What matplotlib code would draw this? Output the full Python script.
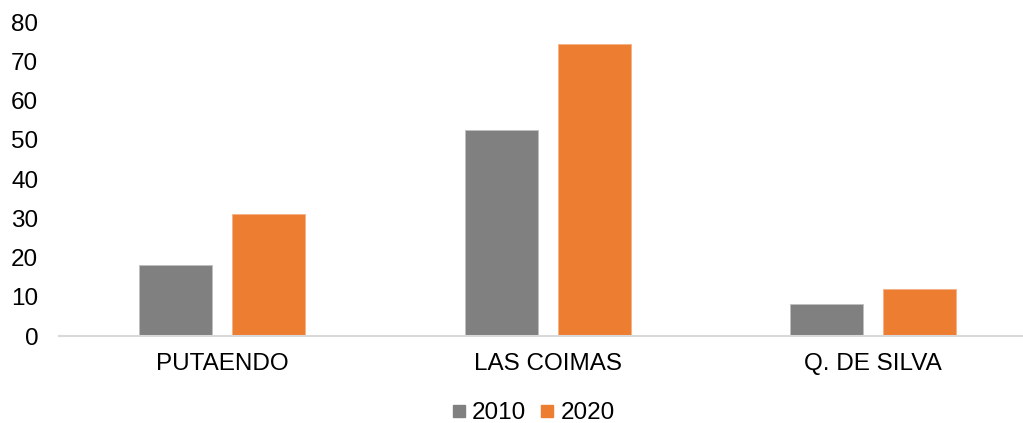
import numpy as np
import matplotlib.pyplot as plt
from matplotlib.lines import Line2D

plt.rcParams['font.family'] = ['Liberation Sans', 'DejaVu Sans']

categories = ["PUTAENDO", "LAS COIMAS", "Q. DE SILVA"]
years = ["2010", "2020"]
values_2010 = [18, 52.6, 8.1]
values_2020 = [31, 74.5, 11.9]
colors = ["#808080", "#ED7D31"]

W, H = 1023, 423
fig = plt.figure(figsize=(W / 100, H / 100), dpi=100)
ax = fig.add_axes([59 / W, (H - 336) / H, 3 * 325.75 / W, (336 - 22.4) / H])

x = np.arange(len(categories))
width = 0.224
ax.bar(x - 0.1425, values_2010, width, color=colors[0], edgecolor="#bfbfbf", linewidth=0.6)
ax.bar(x + 0.1425, values_2020, width, color=colors[1], edgecolor="#f4b183", linewidth=0.6)

ax.set_xlim(-0.5, 2.5)
ax.set_ylim(0, 80)
ax.set_yticks(np.arange(0, 81, 10))
ax.set_xticks(x)
ax.set_xticklabels(categories)

for side in ["top", "right", "left"]:
    ax.spines[side].set_visible(False)
ax.spines["bottom"].set_color("#d9d9d9")
ax.spines["bottom"].set_linewidth(1.5)
ax.tick_params(axis="y", length=0, pad=15, labelsize=17.5, colors="black")
ax.tick_params(axis="x", length=0, pad=12, labelsize=17.5, colors="black")

# legend at the bottom
handles = [Line2D([], [], marker="s", linestyle="none", markersize=8.7,
                  markerfacecolor=c, markeredgecolor=c) for c in colors]
fig.legend(handles, years, loc="center", bbox_to_anchor=(533 / W, 1 - 413 / H),
           ncol=2, frameon=False, fontsize=17.5, handlelength=0.6,
           handletextpad=0.25, columnspacing=0.55, borderpad=0)

fig.savefig("out.png", dpi=100)
plt.close()
